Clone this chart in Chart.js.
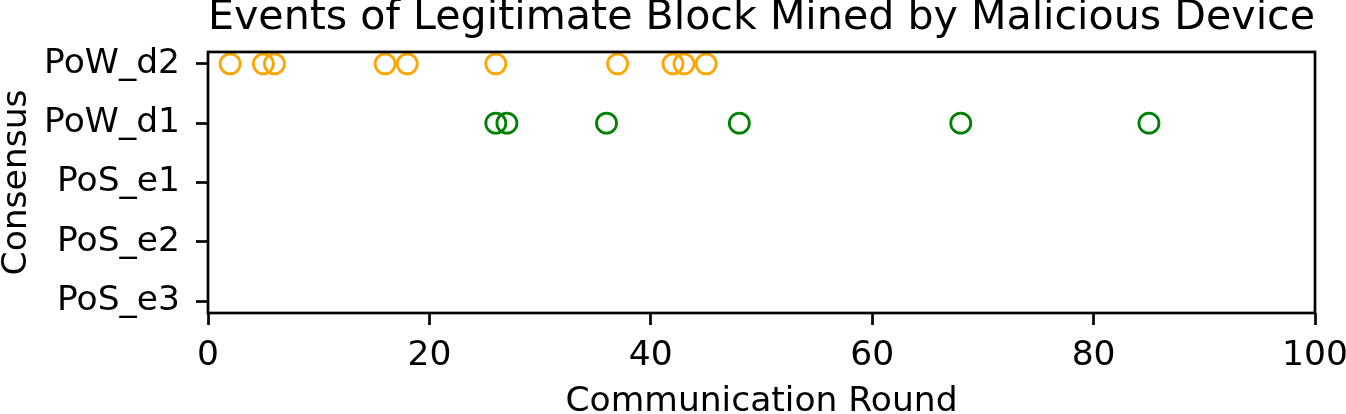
<!DOCTYPE html>
<html>
<head>
<meta charset="utf-8">
<title>Events of Legitimate Block Mined by Malicious Device</title>
<script src="https://cdn.jsdelivr.net/npm/chart.js@4/dist/chart.umd.min.js"></script>
<style>
  html, body { margin: 0; padding: 0; background: #fff; }
  #wrap { width: 1346px; height: 414px; position: relative; }
</style>
</head>
<body>
<div id="wrap"><canvas id="eventsChart"></canvas></div>
<script>
// categories, top to bottom
const consensusLabels = ['PoW_d2', 'PoW_d1', 'PoS_e1', 'PoS_e2', 'PoS_e3'];
// communication rounds where a legitimate block was mined by the malicious device
const powD2Rounds = [2, 5, 6, 16, 18, 26, 37, 42, 43, 45];
const powD1Rounds = [26, 27, 36, 48, 68, 85];
const posE1Rounds = [];
const posE2Rounds = [];
const posE3Rounds = [];
const xTickValues = [0, 20, 40, 60, 80, 100];

const FONT = 'DejaVu Sans';
const LABEL_SIZE = 34.5;

function toPoints(rounds, label) {
  const y = consensusLabels.indexOf(label);
  return rounds.map(r => ({ x: r, y }));
}

// box around the plot, like matplotlib spines
const framePlugin = {
  id: 'frame',
  afterDraw(chart) {
    const { ctx, chartArea: a } = chart;
    ctx.save();
    ctx.strokeStyle = '#000';
    ctx.lineWidth = 2.7;
    ctx.strokeRect(a.left, a.top, a.right - a.left, a.bottom - a.top);
    ctx.restore();
  }
};

const ringStyle = color => ({
  showLine: false,
  pointStyle: 'circle',
  pointRadius: 10,
  pointHoverRadius: 10,
  pointBorderWidth: 2.8,
  borderColor: color,
  backgroundColor: 'rgba(0,0,0,0)'
});

new Chart(document.getElementById('eventsChart'), {
  type: 'scatter',
  data: {
    datasets: [
      { label: 'PoW_d2', data: toPoints(powD2Rounds, 'PoW_d2'), ...ringStyle('#ffa500') },
      { label: 'PoW_d1', data: toPoints(powD1Rounds, 'PoW_d1'), ...ringStyle('#008000') },
      { label: 'PoS_e1', data: toPoints(posE1Rounds, 'PoS_e1'), ...ringStyle('#1f77b4') },
      { label: 'PoS_e2', data: toPoints(posE2Rounds, 'PoS_e2'), ...ringStyle('#d62728') },
      { label: 'PoS_e3', data: toPoints(posE3Rounds, 'PoS_e3'), ...ringStyle('#9467bd') }
    ]
  },
  options: {
    responsive: true,
    maintainAspectRatio: false,
    animation: false,
    color: '#000',
    layout: { padding: { top: 0, right: 31, bottom: 0, left: 0 } },
    plugins: {
      legend: { display: false },
      tooltip: { enabled: false },
      title: {
        display: true,
        fullSize: false,
        text: 'Events of Legitimate Block Mined by Malicious Device',
        color: '#000',
        font: { family: FONT, size: 41.4, weight: 'normal', lineHeight: 0.9 },
        padding: { top: 0, bottom: 14.7 }
      }
    },
    scales: {
      x: {
        type: 'linear',
        min: 0,
        max: 100,
        afterBuildTicks: scale => { scale.ticks = xTickValues.map(v => ({ value: v })); },
        afterFit: scale => { scale.height = 101; scale.paddingLeft = 0; scale.paddingRight = 0; },
        border: { display: false },
        grid: { drawOnChartArea: false, drawTicks: true, tickLength: 12, tickWidth: 2.7, tickColor: '#000' },
        ticks: { color: '#000', padding: 10, maxRotation: 0, font: { family: FONT, size: LABEL_SIZE } },
        title: {
          display: true,
          text: 'Communication Round',
          color: '#000',
          font: { family: FONT, size: LABEL_SIZE, lineHeight: 0.7 },
          padding: { top: 0, bottom: 0 }
        }
      },
      y: {
        type: 'linear',
        reverse: true,
        min: -0.2,
        max: 4.2,
        afterBuildTicks: scale => { scale.ticks = consensusLabels.map((_, i) => ({ value: i })); },
        afterFit: scale => { scale.width = 208; scale.paddingTop = 0; scale.paddingBottom = 0; },
        border: { display: false },
        grid: { drawOnChartArea: false, drawTicks: true, tickLength: 12, tickWidth: 2.7, tickColor: '#000' },
        ticks: {
          color: '#000',
          padding: 16,
          font: { family: FONT, size: LABEL_SIZE },
          callback: v => consensusLabels[v] ?? ''
        },
        title: {
          display: true,
          text: 'Consensus',
          color: '#000',
          font: { family: FONT, size: LABEL_SIZE, lineHeight: 1 },
          padding: { top: 0, bottom: 0 }
        }
      }
    }
  },
  plugins: [framePlugin]
});
</script>
</body>
</html>
